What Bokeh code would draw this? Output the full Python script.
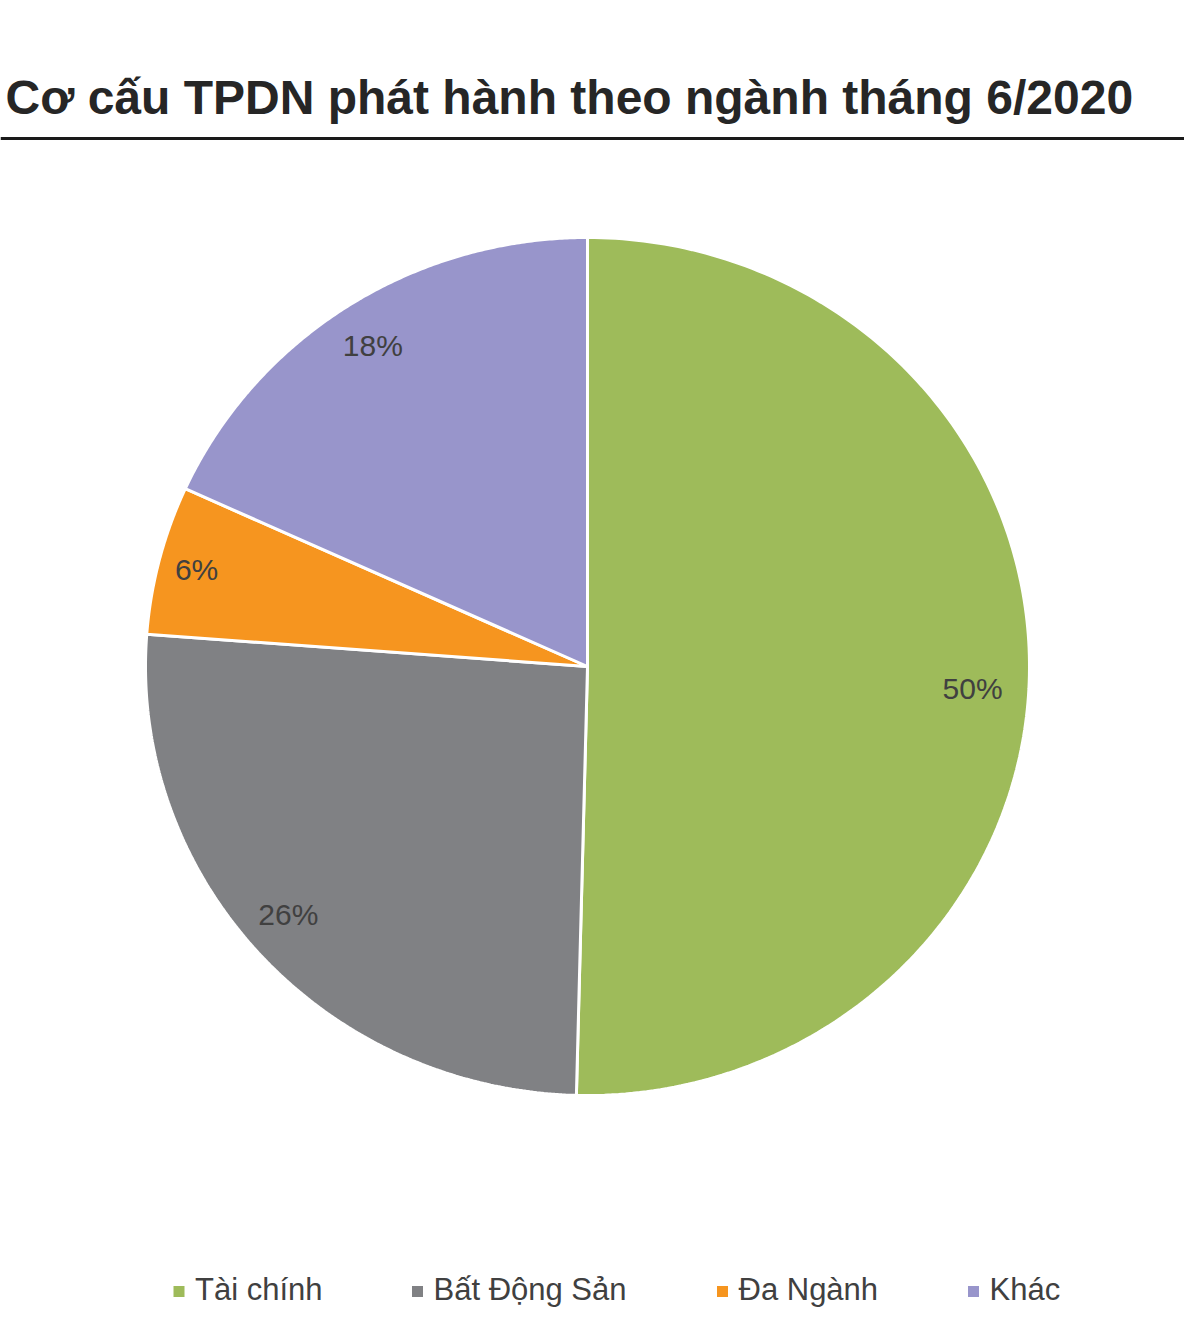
import numpy as np
from bokeh.plotting import figure
from bokeh.models import Range1d, ColumnDataSource
from bokeh.core.properties import value
from bokeh.embed import file_html
from bokeh.resources import INLINE

title = "Cơ cấu TPDN phát hành theo ngành tháng 6/2020"
categories = ["Tài chính", "Bất Động Sản", "Đa Ngành", "Khác"]
shares = [50.4, 25.8, 5.6, 18.2]
labels = ["50%", "26%", "6%", "18%"]
colors = ["#9EBB5A", "#808184", "#F6951F", "#9895CB"]

W, H = 1184, 1321
def Y(ys):
    return H - ys

p = figure(width=W, height=H, x_range=Range1d(0, W), y_range=Range1d(0, H),
           output_backend="svg", toolbar_location=None, min_border=0)
p.axis.visible = False
p.grid.visible = False
p.outline_line_color = None
p.background_fill_color = "white"
p.border_fill_color = "white"

FONT = "Liberation Sans"

# title
p.text(x=[5], y=[Y(97)], text=[title], text_font=value(FONT), text_font_style="bold",
       text_font_size="48px", text_color="#262626", text_baseline="alphabetic", text_align="left")
p.segment(x0=[0], y0=[Y(138)], x1=[1200], y1=[Y(138)], line_color="#1a1a1a", line_width=3)

# pie (elliptical, computed from shares)
cx, cy = 587, Y(666)
rx, ry = 442, 429
vals = np.array(shares, dtype=float)
frac = vals / vals.sum()
ends = np.cumsum(frac)
starts = ends - frac
# small pixel nudges of the data labels (layout only)
nudge_x = [-6, -9, -12, -3]
nudge_y = [-17, 7, 3, 2]
xs, ys = [], []
lx, ly = [], []
for i, (s, e) in enumerate(zip(starts, ends)):
    t = np.linspace(s, e, 200)
    th = np.pi / 2 - t * 2 * np.pi
    xs.append(list(np.concatenate([[cx], cx + rx * np.cos(th), [cx]])))
    ys.append(list(np.concatenate([[cy], cy + ry * np.sin(th), [cy]])))
    m = np.pi / 2 - (s + e) / 2 * 2 * np.pi
    lx.append(cx + 0.885 * rx * np.cos(m) + nudge_x[i])
    ly.append(cy + 0.885 * ry * np.sin(m) + nudge_y[i])

src = ColumnDataSource(dict(xs=xs, ys=ys, color=colors))
p.patches("xs", "ys", source=src, fill_color="color", line_color="white", line_width=3)

p.text(x=lx, y=ly, text=labels, text_font=value(FONT), text_font_size="30px",
       text_color="#404040", text_align="center", text_baseline="middle")

# legend
leg_x = [178.5, 417, 722, 973]
ly_leg = Y(1291)
p.rect(x=leg_x, y=[ly_leg] * 4, width=11, height=11, fill_color=colors, line_color=None)
p.text(x=[x + 16 for x in leg_x], y=[Y(1289)] * 4, text=categories, text_font=value(FONT),
       text_font_size="31px", text_color="#404040", text_align="left", text_baseline="middle")

open("out.html", "w").write(file_html(p, INLINE))
